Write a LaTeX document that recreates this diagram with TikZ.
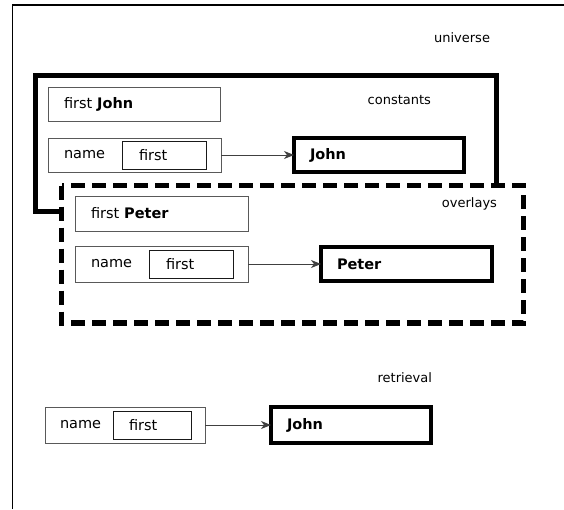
\documentclass[tikz,border=0pt]{standalone}
\usepackage{fontspec}
\setmainfont{DejaVu Sans}
\usetikzlibrary{arrows.meta}
\begin{document}
\begin{tikzpicture}[x=1pt,y=-1pt,
  font=\fontsize{13}{15}\selectfont,
  every node/.style={inner sep=0pt, outer sep=0pt},
  boxfont/.style={font=\fontsize{14.5}{17}\selectfont},
  thinbox/.style={boxfont, draw=black!65, line width=0.9pt, fill=white, minimum height=#1, align=left},
  thinbox/.default=34pt,
  keybox/.style={boxfont, draw=black!90, line width=0.9pt, fill=white, minimum height=28pt, align=left, inner xsep=17pt},
  valbox/.style={boxfont, draw=black, line width=4pt, fill=white, minimum height=34pt, align=left, inner xsep=16pt},
  frame/.style={draw=black, line width=5pt},
  dashframe/.style={draw=black, line width=5.5pt, dash pattern=on 14pt off 7pt, fill=white},
  arrowline/.style={draw=black!75, line width=1pt, -{Stealth[length=10pt,width=8pt,inset=3pt]}},
  tag/.style={anchor=east}
]
\useasboundingbox (0,0) rectangle (564,509);

% universe
\draw[line width=1.3pt] (12.5,509) -- (12.5,5) -- (564,5);
\node[tag] (universe) at (490,38) {universe};

% constants
\draw[frame] (35,75.5) rectangle (496,211);
\node[tag] (constants) at (431,100) {constants};
\node[thinbox, minimum width=172pt, text width=140pt, inner xsep=16pt] (fj) at (134,104) {first \textbf{John}};
\node[thinbox, minimum width=173pt, text width=141pt, inner xsep=16pt] (nm1) at (134.5,155) {name};
\node[keybox, minimum width=84pt, text width=50pt] (in1) at (164,155) {first};
\node[valbox, minimum width=170pt, text width=138pt] (j1) at (379,155) {\textbf{John}};
\draw[arrowline] (nm1) -- (j1);

% overlays
\draw[dashframe] (61.5,185.5) rectangle (523.5,323);
\node[tag] (overlays) at (497,204) {overlays};
\node[thinbox=35pt, minimum width=173pt, text width=141pt, inner xsep=16pt] (fp) at (161.5,213.5) {first \textbf{Peter}};
\node[thinbox=36pt, minimum width=173pt, text width=141pt, inner xsep=16pt] (nm2) at (161.5,264) {name};
\node[keybox, minimum width=84pt, text width=50pt] (in2) at (191,264) {first};
\node[valbox, minimum width=171pt, text width=139pt] (pe) at (406.5,264) {\textbf{Peter}};
\draw[arrowline] (nm2) -- (pe);

% retrieval
\node[tag] (retrieval) at (432,378) {retrieval};
\node[thinbox=36pt, minimum width=160pt, text width=130pt, inner xsep=15pt] (nm3) at (125,425) {name};
\node[keybox, minimum width=78pt, text width=46pt, inner xsep=16pt] (in3) at (152,425) {first};
\node[valbox, minimum width=160pt, minimum height=36pt, text width=128pt] (j3) at (351,425) {\textbf{John}};
\draw[arrowline] (nm3) -- (j3);
\end{tikzpicture}
\end{document}
